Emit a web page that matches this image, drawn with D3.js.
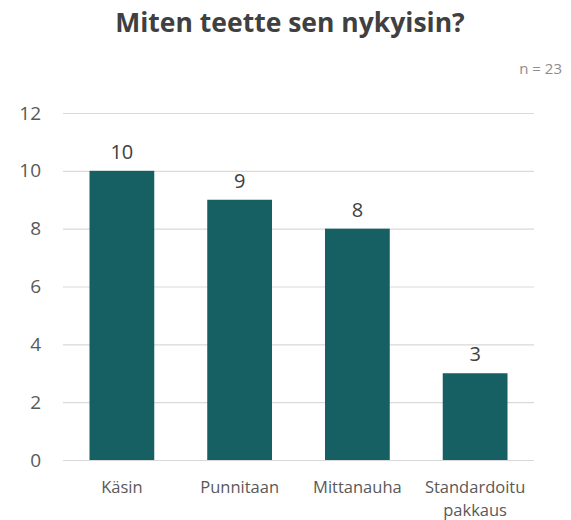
<!DOCTYPE html>
<html>
<head>
<meta charset="utf-8">
<script src="https://cdn.jsdelivr.net/npm/d3@7"></script>
<style>
	body { margin: 0; background: #fff; }
	text { font-family: "Open Sans", "Noto Sans", sans-serif; }
</style>
</head>
<body>
<div id="wrapper"></div>
<script>
const categories = ["Käsin", "Punnitaan", "Mittanauha", "Standardoitu pakkaus"];
const values = [10, 9, 8, 3];
const yTicks = [0, 2, 4, 6, 8, 10, 12];

let dimensions = {
	width: 571,
	height: 520,
	margin: { top: 113, right: 37, bottom: 60, left: 63 }
};
dimensions.boundedWidth = dimensions.width - dimensions.margin.left - dimensions.margin.right;
dimensions.boundedHeight = dimensions.height - dimensions.margin.top - dimensions.margin.bottom;

const svg = d3.select("#wrapper").append("svg")
	.attr("width", dimensions.width)
	.attr("height", dimensions.height);

svg.append("text")
	.attr("x", 290).attr("y", 32)
	.attr("text-anchor", "middle")
	.attr("font-size", 26.5).attr("font-weight", "bold")
	.attr("fill", "#404040")
	.text("Miten teette sen nykyisin?");

svg.append("text")
	.attr("x", 562).attr("y", 74)
	.attr("text-anchor", "end")
	.attr("font-size", 15)
	.attr("fill", "#8c8c8c")
	.text("n = 23");

const bounds = svg.append("g")
	.attr("transform", `translate(${dimensions.margin.left},${dimensions.margin.top})`);

const xScale = d3.scaleBand()
	.domain(categories)
	.range([0, dimensions.boundedWidth])
	.paddingInner(0.45)
	.paddingOuter(0.225);

const yScale = d3.scaleLinear()
	.domain([0, 12])
	.range([dimensions.boundedHeight, 0]);

// gridlines + y labels
const yAxis = bounds.append("g")
	.call(d3.axisLeft(yScale).tickValues(yTicks).tickSize(-dimensions.boundedWidth).tickPadding(22));
yAxis.select(".domain").remove();
yAxis.selectAll(".tick line").attr("stroke", "#d9d9d9").attr("stroke-width", 1.2);
yAxis.selectAll(".tick text")
	.attr("font-size", 19).attr("fill", "#595959")
	.attr("font-family", "Open Sans, sans-serif");

bounds.selectAll("rect.bar")
	.data(values)
	.join("rect")
	.attr("class", "bar")
	.attr("x", (d, i) => xScale(categories[i]))
	.attr("width", xScale.bandwidth())
	.attr("y", d => yScale(d))
	.attr("height", d => dimensions.boundedHeight - yScale(d))
	.attr("fill", "#165f62");

bounds.selectAll("text.val")
	.data(values)
	.join("text")
	.attr("class", "val")
	.attr("x", (d, i) => xScale(categories[i]) + xScale.bandwidth() / 2)
	.attr("y", d => yScale(d) - 12)
	.attr("text-anchor", "middle")
	.attr("font-size", 20)
	.attr("fill", "#404040")
	.text(d => d);

// category labels, wrapped
const xAxis = bounds.append("g")
	.attr("transform", `translate(0,${dimensions.boundedHeight})`);
categories.forEach(c => {
	const words = c.split(" ");
	const t = xAxis.append("text")
		.attr("x", xScale(c) + xScale.bandwidth() / 2)
		.attr("y", 33)
		.attr("text-anchor", "middle")
		.attr("font-size", 16.5)
		.attr("fill", "#595959");
	words.forEach((w, i) => {
		t.append("tspan")
			.attr("x", xScale(c) + xScale.bandwidth() / 2)
			.attr("dy", i === 0 ? 0 : 23)
			.text(w);
	});
});
</script>
</body>
</html>
